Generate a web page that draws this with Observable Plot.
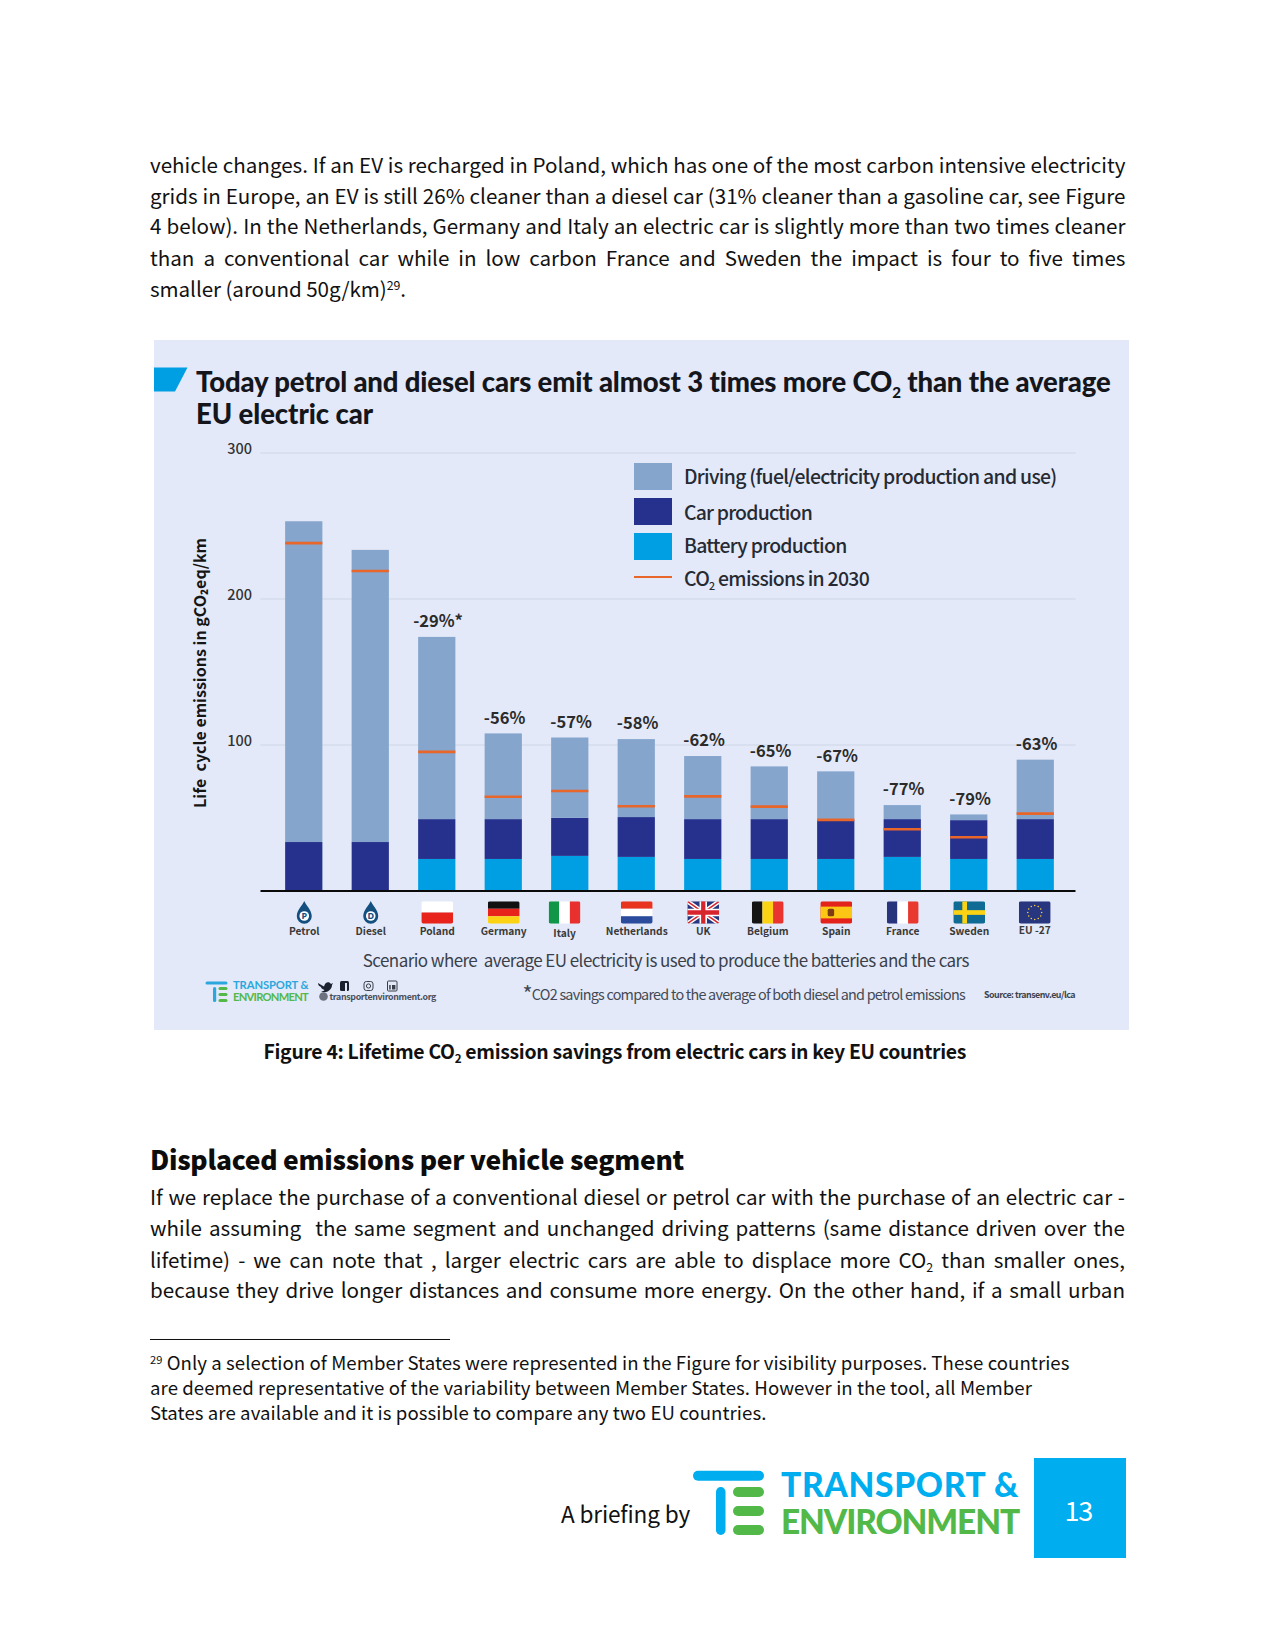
<!DOCTYPE html>
<html><head><meta charset="utf-8">
<script src="https://cdn.jsdelivr.net/npm/d3@7"></script>
<script src="https://cdn.jsdelivr.net/npm/@observablehq/plot@0.6"></script>
<style>
html,body{margin:0;padding:0;background:#fff;}
body{position:relative;width:1275px;height:1650px;overflow:hidden;font-family:"Noto Sans CJK SC","Noto Sans",sans-serif;color:#111;}
#page{position:absolute;left:0;top:-1.5px;width:1275px;height:1650px;}
.t{position:absolute;white-space:pre;line-height:1;transform:translateY(-50%);}
.box{position:absolute;}
sub,sup{line-height:0;}
</style></head><body>
<div id="page"></div>
<script>
// ---- chart data ----
const categories=["Petrol","Diesel","Poland","Germany","Italy","Netherlands","UK","Belgium","Spain","France","Sweden","EU -27"];
const battery=[0,0,21.6,21.6,23.7,23,21.6,21.6,21.6,23,21.6,21.6];
const carProduction=[33.2,33.2,27.3,27.3,26.1,27.3,27.3,27.3,26.9,25.9,26.6,27.3];
const driving=[219.7,200.1,124.8,58.7,55,53.4,43.2,36.1,33.1,9.6,3.9,40.7];
const co2In2030=[238.3,219.2,95.3,64.6,68.5,58,64.8,57.8,48.7,42.3,36.8,53];
const savings=[null,null,"-29%*","-56%","-57%","-58%","-62%","-65%","-67%","-77%","-79%","-63%"];
const yTicks=[100,200,300];
const seriesNames=["Driving (fuel/electricity production and use)","Car production","Battery production"];
const seriesColors=["#85a5cd","#26318d","#009fe3"];
const co2Color="#e8662a";

// ---- flag artwork, one per category ----
const wrap=(w,h,inner)=>"data:image/svg+xml,"+encodeURIComponent(`<svg xmlns="http://www.w3.org/2000/svg" viewBox="0 0 ${w} ${h}"><defs><clipPath id="c"><rect width="${w}" height="${h}" rx="2"/></clipPath></defs><g clip-path="url(#c)">${inner}</g></svg>`);
const hb=(a,b,c)=>c?`<rect width="30" height="7" fill="${a}"/><rect y="7" width="30" height="7" fill="${b}"/><rect y="14" width="30" height="7" fill="${c}"/>`:`<rect width="30" height="10.5" fill="${a}"/><rect y="10.5" width="30" height="10.5" fill="${b}"/>`;
const vb=(a,b,c)=>`<rect width="10" height="21" fill="${a}"/><rect x="10" width="10" height="21" fill="${b}"/><rect x="20" width="10" height="21" fill="${c}"/>`;
const drop=l=>`data:image/svg+xml,`+encodeURIComponent(`<svg xmlns="http://www.w3.org/2000/svg" viewBox="0 0 15 23"><path d="M7.5 0C9 4 15 9 15 15.2A7.5 7.5 0 0 1 0 15.2C0 9 6 4 7.5 0Z" fill="#134f7f"/><circle cx="7.5" cy="15" r="4.8" fill="#fff"/><text x="7.5" y="18.2" font-family="Noto Sans,sans-serif" font-weight="700" font-size="9" text-anchor="middle" fill="#134f7f">${l}</text></svg>`);
const stars=d3.range(12).map(i=>`<circle cx="${15+6.5*Math.cos(i*Math.PI/6)}" cy="${10.5+6.5*Math.sin(i*Math.PI/6)}" r="0.75" fill="#f4cf3a"/>`).join("");
const flags=[
 drop("P"),drop("D"),
 wrap(30,21,hb("#fff","#e8231c")),
 wrap(30,21,hb("#111","#e8231c","#fbd214")),
 wrap(30,21,vb("#0f9647","#fff","#e8312f")),
 wrap(30,21,hb("#e8341f","#fff","#2b4c9c")),
 wrap(30,21,`<rect width="30" height="21" fill="#27367f"/><path d="M0 0L30 21M30 0L0 21" stroke="#fff" stroke-width="4.2"/><path d="M0 0L30 21M30 0L0 21" stroke="#d8242c" stroke-width="1.4"/><path d="M15 0V21M0 10.5H30" stroke="#fff" stroke-width="7"/><path d="M15 0V21M0 10.5H30" stroke="#d8242c" stroke-width="4"/>`),
 wrap(30,21,vb("#141414","#fbd214","#e9342f")),
 wrap(30,21,`<rect width="30" height="21" fill="#e3231b"/><rect y="5" width="30" height="11" fill="#fbc614"/><rect x="7" y="7" width="6" height="7" rx="1.5" fill="#7c3b12"/>`),
 wrap(30,21,vb("#27357f","#fff","#e9392f")),
 wrap(30,21,`<rect width="30" height="21" fill="#0f6a94"/><rect x="8.5" width="4.4" height="21" fill="#fbd214"/><rect y="8.3" width="30" height="4.4" fill="#fbd214"/>`),
 wrap(30,21,`<rect width="30" height="21" fill="#27367f"/>${stars}`)
];

const rows=categories.map((name,i)=>({name,battery:battery[i],car:carProduction[i],driving:driving[i],co2:co2In2030[i],saving:savings[i],flag:flags[i],total:battery[i]+carProduction[i]+driving[i]}));
const stacked=rows.flatMap(r=>[
 {name:r.name,part:seriesNames[2],v:r.battery},
 {name:r.name,part:seriesNames[1],v:r.car},
 {name:r.name,part:seriesNames[0],v:r.driving}]);

// ---- page helpers ----
const page=document.getElementById("page");
const PANEL={x:153.5,y:341.5,w:975,h:690};
function txt(html,x1,cy,size,opts={}){
  const el=document.createElement("div");el.className="t";el.innerHTML=html;
  el.style.cssText+=`left:${x1}px;top:${cy}px;font-size:${size}px;`+(opts.css||"");
  page.appendChild(el);
  if(opts.x2){
    const w=el.getBoundingClientRect().width,target=opts.x2-x1,plain=el.textContent;
    if(opts.word){el.style.wordSpacing=((target-w)/(plain.split(" ").length-1))+"px";}
    else{el.style.letterSpacing=((target-w)/plain.length)+"px";}
  }
  return el;
}
function box(x,y,w,h,bg){const d=document.createElement("div");d.className="box";d.style.cssText=`left:${x}px;top:${y}px;width:${w}px;height:${h}px;background:${bg};`;page.appendChild(d);return d;}
function svgAt(x,y,w,h,inner){const d=document.createElement("div");d.className="box";d.style.cssText=`left:${x}px;top:${y}px;width:${w}px;height:${h}px;`;d.innerHTML=`<svg width="${w}" height="${h}" viewBox="0 0 ${w} ${h}" style="display:block">${inner}</svg>`;page.appendChild(d);}

// ---- body text above ----
const sup=`<sup style="font-size:.6em;vertical-align:.55em">29</sup>`;
const BODY=20.6;
[["vehicle changes. If an EV is recharged in Poland, which has one of the most carbon intensive electricity",165],
 ["grids in Europe, an EV is still 26% cleaner than a diesel car (31% cleaner than a gasoline car, see Figure",196],
 ["4 below). In the Netherlands, Germany and Italy an electric car is slightly more than two times cleaner",226.8],
 ["than a conventional car while in low carbon France and Sweden the impact is four to five times",258.2]
].forEach(([s,y])=>txt(s,150,y,BODY,{x2:1125.5,word:true}));
txt("smaller (around 50g/km)"+sup+".",150,289.5,BODY,{x2:406,word:false});

// ---- chart ----
const chart=Plot.plot({
  width:PANEL.w,height:PANEL.h,
  marginLeft:108,marginRight:52,marginTop:112.5,marginBottom:PANEL.h-550.5,
  style:{position:"absolute",left:PANEL.x+"px",top:PANEL.y+"px",background:"#e3e9f8",fontFamily:'"Noto Sans CJK SC","Noto Sans",sans-serif',overflow:"visible"},
  x:{domain:categories,paddingInner:0.44,paddingOuter:0.348,round:false,axis:null},
  y:{domain:[0,300],axis:null},
  color:{domain:seriesNames,range:seriesColors},
  marks:[
    Plot.ruleY(yTicks,{stroke:"#d4dbec",strokeWidth:1.4,insetLeft:-1.5,insetRight:1.5}),
    Plot.axisY({ticks:yTicks,tickSize:0,tickPadding:0,dx:-10.5,dy:-3.6,fontSize:14.5,fontWeight:500,fill:"#333",label:null,tickFormat:d=>String(d)}),
    Plot.barY(stacked,{x:"name",y:"v",fill:"part",order:seriesNames.slice().reverse()}),
    Plot.tickY(rows,{x:"name",y:"co2",stroke:co2Color,strokeWidth:2.6}),
    Plot.ruleY([0],{stroke:"#0a0a0a",strokeWidth:2.2,insetLeft:-1.5,insetRight:1.5}),
    Plot.text(rows.filter(r=>r.saving),{x:"name",y:"total",text:"saving",dy:-15.5,dx:0.8,fontSize:16.5,fontWeight:700,fill:"#2b2b2b",lineAnchor:"middle"}),
    Plot.text(["Life  cycle emissions in gCO₂eq/km"],{frameAnchor:"left",textAnchor:"middle",rotate:-90,dx:-62,dy:1,fontSize:16,fontWeight:700,fill:"#151515",lineAnchor:"middle"}),
    // flags and their names sit under the baseline
    ...[[r=>r.name==="Italy",-5.7,1.5],[r=>r.name==="Belgium",-2,0],[r=>r.name==="EU -27",-1,-1],[r=>!["Italy","Belgium","EU -27"].includes(r.name),0,0]].flatMap(([f,dx,dy])=>{
      const d=rows.filter(f);
      return [
        Plot.image(d,{x:"name",src:"flag",frameAnchor:"bottom",dy:21.5,dx,width:r=>r.flag.includes("viewBox%3D%220%200%2015")?16:32,height:23,preserveAspectRatio:"xMidYMid meet"}),
        Plot.text(d,{x:"name",text:"name",frameAnchor:"bottom",dy:40.8+dy,dx,fontSize:10.2,fontWeight:700,fill:"#3a3a3a",lineAnchor:"middle"})
      ];
    })
  ]
});
page.appendChild(chart);

// ---- panel headline ----
page.insertAdjacentHTML("beforeend",`<svg style="position:absolute;left:153.5px;top:368.5px" width="34" height="25"><path d="M0 0.5H33.5L21 24.5H0Z" fill="#009fe3"/></svg>`);
const HEAD='font-family:Lato,sans-serif;font-weight:900;color:#14161c;';
txt(`Today petrol and diesel cars emit almost 3 times more CO<sub style="font-size:.55em;vertical-align:-.35em">2</sub> than the average`,196,383,27.5,{x2:1111,css:HEAD});
txt("EU electric car",196,415.5,27.5,{x2:373,css:HEAD});

// ---- legend ----
const LEGENDFONT='color:#262a33;font-weight:500;';
[[464.8,seriesColors[0]],[499.8,seriesColors[1]],[534.5,seriesColors[2]]].forEach(([y,c])=>box(633.5,y,38.5,27,c));
box(634,577.5,38,2.4,co2Color);
txt(seriesNames[0],684,477,19.4,{x2:1056.5,css:LEGENDFONT});
txt(seriesNames[1],684,513,19.4,{x2:812,css:LEGENDFONT});
txt(seriesNames[2],684,546,19.4,{x2:846.5,css:LEGENDFONT});
txt(`CO<sub style="font-size:.55em;vertical-align:-.35em">2</sub> emissions in 2030`,684,579,19.4,{x2:869,css:LEGENDFONT});

// ---- panel footer ----
txt("Scenario where  average EU electricity is used to produce the batteries and the cars",362.7,960.7,17,{x2:969,css:"color:#3a3f4a;"});
txt("<span style='font-size:1.5em;vertical-align:-.1em;line-height:0'>*</span>CO2 savings compared to the average of both diesel and petrol emissions",522.5,995,14.4,{x2:965,css:"color:#444a55;"});
txt("Source: transenv.eu/lca",984,996.7,8.9,{x2:1075,css:"color:#3e434d;font-weight:700;"});
svgAt(205,981,30,23,`<rect x="0.5" y="1.5" width="22" height="3" rx="1.5" fill="#2aa7dd"/><rect x="8" y="7" width="3.2" height="15" rx="1.6" fill="#2aa7dd"/><rect x="13.5" y="7" width="9" height="3" rx="1.5" fill="#52b848"/><rect x="13.5" y="13" width="9" height="3" rx="1.5" fill="#52b848"/><rect x="13.5" y="19" width="9" height="3" rx="1.5" fill="#52b848"/>`);
const LOGOS='font-family:Lato,sans-serif;font-weight:700;';
txt("TRANSPORT &",233,986,11.2,{x2:308.5,css:LOGOS+"color:#2aa7dd;"});
txt("ENVIRONMENT",233,998.5,11.2,{x2:308,css:LOGOS+"color:#52b848;"});
svgAt(318,980,84,14,`<path d="M0 4C3 6 5 7 6 7.5 7 3 11 2 13 5L15 4 14 6C14 11 8 15 3 12.5 5 12.5 6 11.5 6.5 11 4 10 3 9 3 8 1 7 0 6 0 4Z" fill="#1c2230"/><rect x="22" y="2" width="9" height="10" rx="1.5" fill="#1c2230"/><rect x="27" y="4" width="2" height="8" fill="#e3e9f8"/><rect x="46" y="2.5" width="9" height="9" rx="2.4" fill="none" stroke="#3a3f4a" stroke-width="1"/><circle cx="50.5" cy="7" r="2.1" fill="none" stroke="#3a3f4a" stroke-width="1"/><rect x="69.5" y="2" width="9.5" height="10" rx="1" fill="#e3e9f8" stroke="#3a3f4a" stroke-width="1"/><rect x="71.2" y="6" width="1.5" height="4.5" fill="#3a3f4a"/><rect x="74" y="6" width="3.4" height="4.5" fill="#3a3f4a"/>`);
svgAt(318,992,11,11,`<circle cx="5.5" cy="5.5" r="4.3" fill="#6c7280"/>`);
txt("transportenvironment.org",329.5,998,8.8,{x2:436,css:"color:#4a4f5a;font-weight:700;"});

// ---- text below the panel ----
txt(`Figure 4: Lifetime CO<sub style="font-size:.6em;vertical-align:-.35em">2</sub> emission savings from electric cars in key EU countries`,263.5,1052.7,19.4,{x2:966,css:"font-weight:700;color:#111;"});
txt("Displaced emissions per vehicle segment",150,1160.5,26.4,{x2:684,css:"font-weight:900;color:#0c0c0c;"});
[["If we replace the purchase of a conventional diesel or petrol car with the purchase of an electric car -",1197.7],
 ["while assuming  the same segment and unchanged driving patterns (same distance driven over the",1228.6],
 ["lifetime) - we can note that , larger electric cars are able to displace more CO<sub style='font-size:.6em;vertical-align:-.35em'>2</sub> than smaller ones,",1260],
 ["because they drive longer distances and consume more energy. On the other hand, if a small urban",1290.7]
].forEach(([s,y])=>txt(s,150,y,BODY,{x2:1125,word:true}));
box(150,1340,300,1.8,"#111");
const FN=18.6;
txt("<sup style='font-size:.6em;vertical-align:.5em'>29</sup> Only a selection of Member States were represented in the Figure for visibility purposes. These countries",150,1363.5,FN,{x2:1069.5});
txt("are deemed representative of the variability between Member States. However in the tool, all Member",150,1388.5,FN,{x2:1032});
txt("States are available and it is possible to compare any two EU countries.",150,1413.5,FN,{x2:766.5});

// ---- page footer ----
txt("A briefing by",561,1515,22.6,{x2:690,css:"color:#111;"});
svgAt(690.5,1470,76,68,`<rect x="2" y="1.7" width="71" height="10" rx="5" fill="#00aeef"/><rect x="25" y="18" width="9.5" height="48" rx="4.7" fill="#00aeef"/><rect x="42" y="18" width="31" height="10" rx="5" fill="#52b848"/><rect x="42" y="37" width="31" height="10" rx="5" fill="#52b848"/><rect x="42" y="56" width="31" height="10" rx="5" fill="#52b848"/>`);
const BIG='font-family:Lato,sans-serif;font-weight:900;';
txt("TRANSPORT &",781,1486,33.5,{x2:1019,css:BIG+"color:#00aeef;"});
txt("ENVIRONMENT",781,1523.5,33.5,{x2:1019,css:BIG+"color:#52b848;"});
box(1034,1459,91.5,100.5,"#00aeef");
txt("13",1064.5,1510.5,27,{x2:1092,css:"color:#fff;"});
</script>
</body></html>
